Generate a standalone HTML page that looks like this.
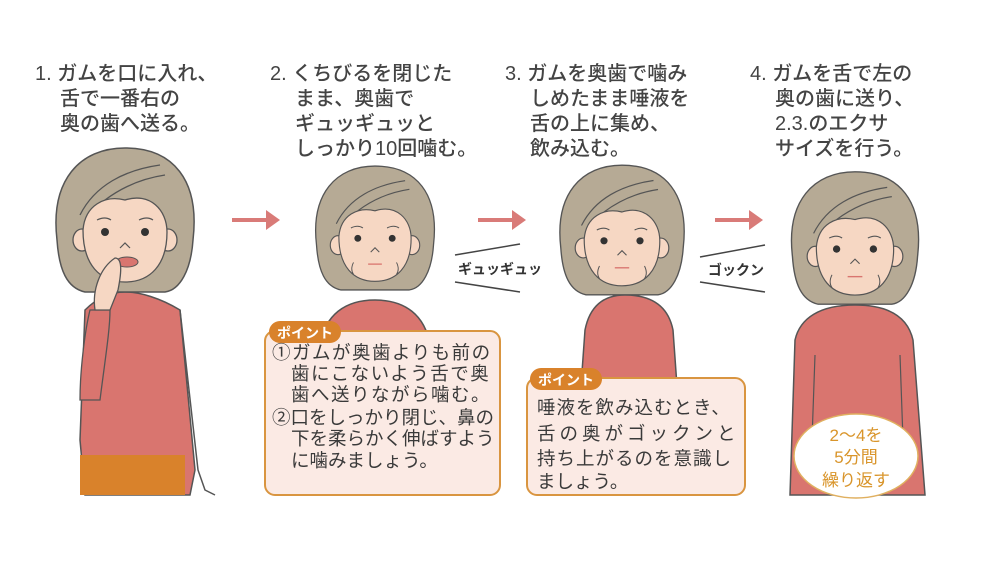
<!DOCTYPE html>
<html><head><meta charset="utf-8"><style>
html,body{margin:0;padding:0;background:#fff;}
svg{display:block;}
text{font-family:"Liberation Sans","Noto Sans CJK JP",sans-serif;}
.h{font-size:20px;fill:#444;font-weight:500;}
.b{font-size:18.5px;fill:#3a3a3a;}
</style></head><body>
<svg width="1000" height="563" viewBox="0 0 1000 563" xmlns="http://www.w3.org/2000/svg">
<defs>
<g id="head">
  <path d="M-68,20 C-75,-40 -45,-72 0,-72 C48,-72 75,-40 68,20 C66,50 55,70 40,72 L-40,72 C-58,68 -66,50 -68,20Z" fill="#b6aa95" stroke="#555" stroke-width="1.5"/>
  <ellipse cx="-43" cy="20" rx="9" ry="11" fill="#f6d7c3" stroke="#555" stroke-width="1.3"/>
  <ellipse cx="43" cy="20" rx="9" ry="11" fill="#f6d7c3" stroke="#555" stroke-width="1.3"/>
  <path d="M-42,10 C-40,-15 -20,-25 0,-20 C25,-28 42,-10 42,12 C42,45 25,62 0,62 C-25,62 -42,45 -42,10Z" fill="#f6d7c3" stroke="#555" stroke-width="1.3"/>
  <path d="M-45,-5 C-30,-35 0,-50 35,-55 M-20,-20 C0,-35 20,-42 40,-45" fill="none" stroke="#555" stroke-width="1.3"/>
  <path d="M-28,0 q8,-4 14,0 M14,0 q8,-4 14,0" fill="none" stroke="#555" stroke-width="1.2"/>
  <circle cx="-20" cy="12" r="4" fill="#333"/><circle cx="20" cy="12" r="4" fill="#333"/>
  <path d="M-5,28 l5,-5 l5,5" fill="none" stroke="#555" stroke-width="1.2"/>
</g>
</defs>

<text class="h" x="35" y="80">1. ガムを口に入れ、</text>
<text class="h" x="60" y="105">舌で一番右の</text>
<text class="h" x="60" y="130">奥の歯へ送る。</text>

<text class="h" x="270" y="80">2. くちびるを閉じた</text>
<text class="h" x="295" y="105">まま、奥歯で</text>
<text class="h" x="295" y="130">ギュッギュッと</text>
<text class="h" x="295" y="155">しっかり10回噛む。</text>

<text class="h" x="505" y="80">3. ガムを奥歯で噛み</text>
<text class="h" x="530" y="105">しめたまま唾液を</text>
<text class="h" x="530" y="130">舌の上に集め、</text>
<text class="h" x="530" y="155">飲み込む。</text>

<text class="h" x="750" y="80">4. ガムを舌で左の</text>
<text class="h" x="775" y="105">奥の歯に送り、</text>
<text class="h" x="775" y="130">2.3.のエクサ</text>
<text class="h" x="775" y="155">サイズを行う。</text>

<g stroke="#d97b78" stroke-width="4" fill="#d97b78">
<line x1="232" y1="220" x2="268" y2="220"/><path d="M266,210 L280,220 L266,230Z" stroke="none"/>
<line x1="478" y1="220" x2="514" y2="220"/><path d="M512,210 L526,220 L512,230Z" stroke="none"/>
<line x1="715" y1="220" x2="751" y2="220"/><path d="M749,210 L763,220 L749,230Z" stroke="none"/>
</g>

<!-- Figure 1 -->
<path d="M85,310 C100,295 115,292 125,292 C140,292 160,298 180,310 L195,470 L190,495 L85,495 L80,440 Z" fill="#d9756f" stroke="#555" stroke-width="1.5"/>
<rect x="80" y="455" width="105" height="40" fill="#d9822b"/>
<path d="M180,310 L198,470 L205,490 L215,495" fill="none" stroke="#555" stroke-width="1.5"/>
<use href="#head" x="125" y="220"/>
<ellipse cx="127" cy="262" rx="11" ry="5" fill="#d9756f" stroke="#555" stroke-width="1"/>
<path d="M90,310 C85,330 80,370 80,400 L100,400 C105,360 110,330 110,310Z" fill="#d9756f" stroke="#555" stroke-width="1.3"/>
<path d="M95,310 C92,290 100,268 115,258 C122,258 122,270 118,290 L110,310Z" fill="#f6d7c3" stroke="#555" stroke-width="1.3"/>

<!-- Figure 2 -->
<path d="M320,345 C325,315 345,300 375,300 C405,300 425,315 430,345Z" fill="#d9756f" stroke="#555" stroke-width="1.5"/>
<g transform="translate(375,228) scale(0.86)"><use href="#head"/>
<path d="M-8,42 h16" stroke="#d9756f" stroke-width="1.5"/>
<path d="M-25,40 q-4,8 0,14 M25,40 q4,8 0,14" fill="none" stroke="#555" stroke-width="1.1"/></g>
<line x1="455" y1="255" x2="520" y2="244" stroke="#444" stroke-width="1.5"/>
<line x1="455" y1="282" x2="520" y2="292" stroke="#444" stroke-width="1.5"/>
<text x="458" y="274" font-size="14" font-weight="bold" fill="#333">ギュッギュッ</text>

<!-- Figure 3 -->
<path d="M580,400 L585,330 C590,305 605,295 625,295 C650,295 668,305 673,330 L678,400Z" fill="#d9756f" stroke="#555" stroke-width="1.5"/>
<g transform="translate(622,230) scale(0.9)"><use href="#head"/>
<path d="M-8,42 h16" stroke="#d9756f" stroke-width="1.5"/>
<path d="M-25,40 q-4,8 0,14 M25,40 q4,8 0,14" fill="none" stroke="#555" stroke-width="1.1"/></g>
<line x1="700" y1="257" x2="765" y2="245" stroke="#444" stroke-width="1.5"/>
<line x1="700" y1="282" x2="765" y2="292" stroke="#444" stroke-width="1.5"/>
<text x="708" y="275" font-size="14" font-weight="bold" fill="#333">ゴックン</text>

<!-- Figure 4 -->
<path d="M790,495 L795,340 C800,318 820,305 855,305 C890,305 908,318 913,340 L925,495Z" fill="#d9756f" stroke="#555" stroke-width="1.5"/>
<path d="M815,355 L812,440 M900,355 L903,440" stroke="#555" stroke-width="1.2"/>
<g transform="translate(855,238) scale(0.92)"><use href="#head"/>
<path d="M-8,42 h16" stroke="#d9756f" stroke-width="1.5"/>
<path d="M-25,40 q-4,8 0,14 M25,40 q4,8 0,14" fill="none" stroke="#555" stroke-width="1.1"/></g>
<ellipse cx="856" cy="456" rx="62" ry="42" fill="#fff" stroke="#e0b060" stroke-width="1.5"/>
<text x="856" y="441" font-size="17" fill="#d9952b" text-anchor="middle">2〜4を</text>
<text x="856" y="463" font-size="17" fill="#d9952b" text-anchor="middle">5分間</text>
<text x="856" y="486" font-size="17" fill="#d9952b" text-anchor="middle">繰り返す</text>

<!-- Box 1 -->
<rect x="265" y="331" width="235" height="164" rx="10" fill="#fbeae4" stroke="#d99540" stroke-width="2"/>
<rect x="269" y="321" width="72" height="22" rx="11" fill="#d9822b"/>
<text x="277" y="338" font-size="14" font-weight="bold" fill="#fff">ポイント</text>
<text class="b" x="272" y="359" letter-spacing="1.5">①ガムが奥歯よりも前の</text>
<text class="b" x="291" y="380" letter-spacing="1.5">歯にこないよう舌で奥</text>
<text class="b" x="291" y="401" letter-spacing="1.5">歯へ送りながら噛む。</text>
<text class="b" x="272" y="424">②口をしっかり閉じ、鼻の</text>
<text class="b" x="291" y="445">下を柔らかく伸ばすよう</text>
<text class="b" x="291" y="467">に噛みましょう。</text>

<!-- Box 2 -->
<rect x="527" y="378" width="218" height="117" rx="10" fill="#fbeae4" stroke="#d99540" stroke-width="2"/>
<rect x="530" y="368" width="72" height="22" rx="11" fill="#d9822b"/>
<text x="538" y="385" font-size="14" font-weight="bold" fill="#fff">ポイント</text>
<text class="b" x="537" y="414" letter-spacing="1">唾液を飲み込むとき、</text>
<text class="b" x="537" y="440" letter-spacing="4">舌の奥がゴックンと</text>
<text class="b" x="537" y="465" letter-spacing="1">持ち上がるのを意識し</text>
<text class="b" x="537" y="488">ましょう。</text>
</svg>
</body></html>
